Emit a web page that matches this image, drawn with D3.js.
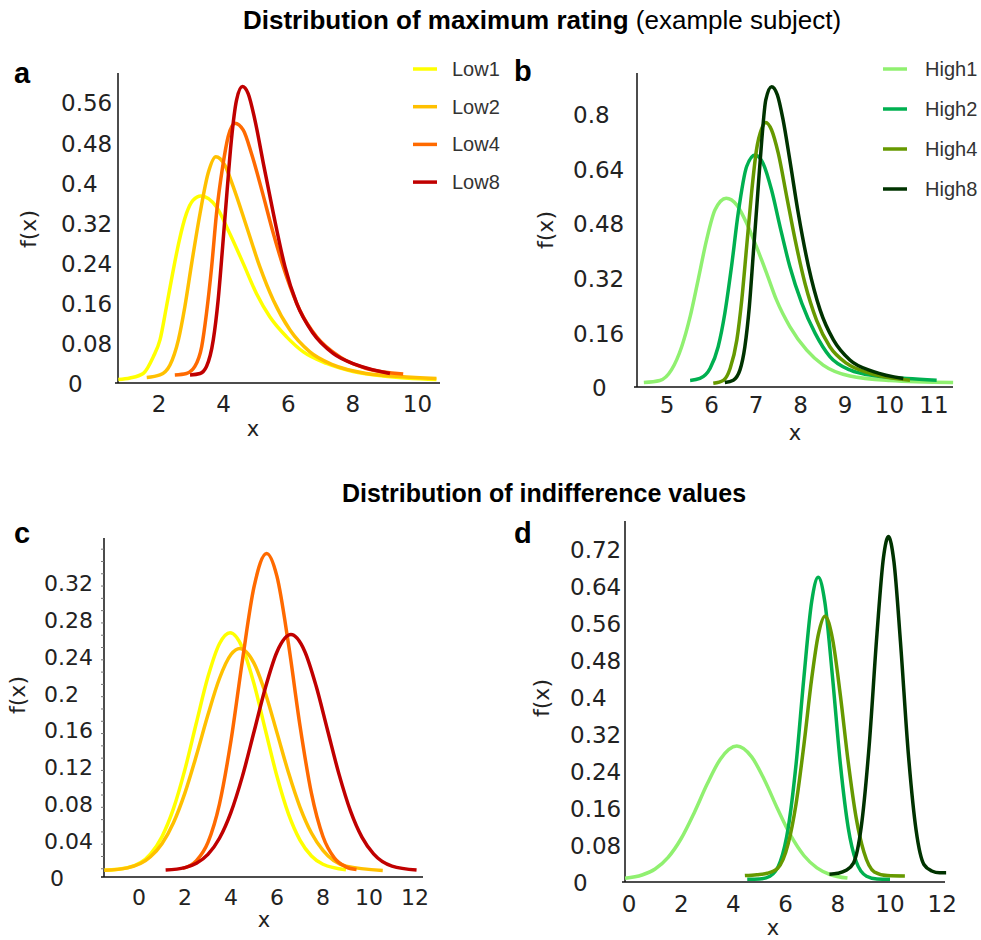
<!DOCTYPE html>
<html>
<head>
<meta charset="utf-8">
<script src="https://cdn.jsdelivr.net/npm/d3@7"></script>
<style>
  body { margin: 0; background: #fff; }
  svg { display: block; }
  text { font-family: "DejaVu Sans", sans-serif; fill: #222; }
</style>
</head>
<body>
<svg id="chart" width="981" height="940"></svg>
<script>
// ---- data: [x, f(x)] ----
// a: maximum rating, Low
const maxLow1 = [[0.74,0.009],[1.10,0.012],[1.51,0.021],[1.82,0.054],[2.03,0.088],[2.23,0.154],[2.42,0.22],[2.63,0.287],[2.85,0.34],[3.05,0.366],[3.30,0.375],[3.78,0.353],[4.19,0.30],[4.61,0.24],[5.02,0.18],[5.43,0.134],[5.95,0.094],[6.47,0.064],[7.19,0.041],[8.01,0.025],[8.94,0.016],[10.59,0.009]];
const maxLow2 = [[1.62,0.013],[2.03,0.018],[2.34,0.038],[2.60,0.088],[2.80,0.154],[3.01,0.24],[3.27,0.34],[3.52,0.42],[3.76,0.453],[4.04,0.436],[4.30,0.393],[4.71,0.314],[5.12,0.234],[5.54,0.167],[6.05,0.108],[6.67,0.064],[7.39,0.038],[8.42,0.021],[9.46,0.015],[10.59,0.011]];
const maxLow4 = [[2.49,0.018],[2.85,0.021],[3.11,0.035],[3.32,0.074],[3.47,0.141],[3.63,0.234],[3.78,0.34],[3.97,0.433],[4.14,0.493],[4.35,0.52],[4.61,0.506],[4.86,0.46],[5.18,0.387],[5.54,0.30],[5.95,0.214],[6.36,0.147],[6.88,0.094],[7.60,0.054],[8.42,0.031],[9.56,0.02]];
const maxLow8 = [[2.96,0.018],[3.27,0.021],[3.47,0.035],[3.68,0.088],[3.83,0.167],[3.97,0.274],[4.11,0.387],[4.24,0.486],[4.40,0.566],[4.58,0.593],[4.76,0.579],[4.97,0.526],[5.23,0.44],[5.54,0.34],[5.90,0.234],[6.26,0.161],[6.77,0.101],[7.39,0.061],[8.12,0.038],[9.15,0.021]];

// b: maximum rating, High
const maxHigh1 = [[4.48,0.016],[4.84,0.022],[5.10,0.053],[5.33,0.121],[5.52,0.209],[5.70,0.317],[5.89,0.434],[6.08,0.522],[6.33,0.556],[6.57,0.536],[6.79,0.483],[7.01,0.414],[7.24,0.336],[7.46,0.258],[7.76,0.18],[8.14,0.111],[8.51,0.067],[9.11,0.035],[10.01,0.022],[11.43,0.016]];
const maxHigh2 = [[5.52,0.022],[5.74,0.028],[5.97,0.058],[6.15,0.121],[6.30,0.219],[6.45,0.356],[6.60,0.512],[6.79,0.649],[6.98,0.683],[7.16,0.658],[7.35,0.58],[7.54,0.473],[7.76,0.356],[8.03,0.248],[8.33,0.16],[8.66,0.092],[9.11,0.053],[9.71,0.035],[10.39,0.028],[11.06,0.023]];
const maxHigh4 = [[6.04,0.014],[6.27,0.023],[6.42,0.058],[6.57,0.141],[6.68,0.258],[6.79,0.414],[6.90,0.571],[7.01,0.697],[7.13,0.761],[7.22,0.778],[7.35,0.756],[7.50,0.688],[7.69,0.561],[7.88,0.434],[8.10,0.307],[8.36,0.199],[8.66,0.121],[9.04,0.072],[9.56,0.043],[10.46,0.023]];
const maxHigh8 = [[6.30,0.016],[6.49,0.023],[6.64,0.053],[6.75,0.121],[6.85,0.238],[6.94,0.395],[7.04,0.571],[7.13,0.727],[7.22,0.844],[7.35,0.883],[7.48,0.859],[7.61,0.785],[7.76,0.668],[7.95,0.512],[8.18,0.356],[8.44,0.229],[8.74,0.141],[9.11,0.082],[9.64,0.048],[10.31,0.028]];

// c: indifference values, Low
const indLow1 = [[-1.5,0.0083],[-0.5,0.0111],[0.5,0.026],[1.0,0.0448],[1.5,0.0752],[2.0,0.1178],[2.5,0.1687],[3.0,0.2182],[3.5,0.2541],[3.96,0.266],[4.5,0.2498],[5.0,0.2109],[5.5,0.1603],[6.0,0.1103],[6.5,0.0695],[7.0,0.0411],[7.5,0.0239],[8.0,0.0149],[9.0,0.0089]];
const indLow2 = [[-1.5,0.0084],[-0.5,0.011],[0.5,0.023],[1.0,0.0372],[1.5,0.060],[2.0,0.0924],[2.5,0.1331],[3.0,0.177],[3.5,0.2164],[4.0,0.2424],[4.39,0.249],[5.0,0.2331],[5.5,0.2002],[6.0,0.1577],[6.5,0.1144],[7.0,0.077],[7.5,0.0488],[8.0,0.030],[9.0,0.0129],[10.6,0.0082]];
const indLow4 = [[1.9,0.0104],[2.5,0.0189],[3.0,0.0387],[3.5,0.0802],[4.0,0.1489],[4.5,0.2363],[5.0,0.3154],[5.55,0.352],[6.0,0.3271],[6.5,0.254],[7.0,0.1655],[7.5,0.0917],[8.0,0.045],[8.5,0.0216],[9.0,0.0121],[9.46,0.0092]];
const indLow8 = [[1.16,0.0086],[2.0,0.0113],[2.5,0.016],[3.0,0.0256],[3.5,0.0431],[4.0,0.0712],[4.5,0.1105],[5.0,0.1583],[5.5,0.2067],[6.0,0.2452],[6.61,0.264],[7.2,0.2463],[7.7,0.2085],[8.2,0.1603],[8.7,0.1124],[9.2,0.0725],[9.7,0.044],[10.2,0.0261],[11.0,0.0129],[12.07,0.0086]];

// d: indifference values, High
const indHigh1 = [[-0.15,0.0104],[0.5,0.0173],[1.0,0.0304],[1.5,0.0555],[2.0,0.0962],[2.5,0.1521],[3.0,0.2145],[3.5,0.2677],[4.13,0.296],[4.7,0.2726],[5.2,0.2217],[5.7,0.1594],[6.2,0.1022],[6.7,0.0595],[7.2,0.0327],[7.7,0.0184],[8.37,0.0107]];
const indHigh2 = [[4.53,0.008],[5.0,0.0087],[5.4,0.0147],[5.8,0.047],[6.1,0.1191],[6.4,0.2561],[6.7,0.4436],[7.0,0.6086],[7.25,0.661],[7.5,0.6086],[7.8,0.4436],[8.1,0.2561],[8.4,0.1191],[8.7,0.047],[9.1,0.0147],[9.5,0.0087],[10.0,0.008]];
const indHigh4 = [[4.44,0.016],[4.9,0.018],[5.3,0.021],[5.7,0.032],[6.1,0.085],[6.4,0.171],[6.7,0.298],[7.0,0.442],[7.25,0.536],[7.51,0.577],[7.8,0.527],[8.1,0.405],[8.4,0.261],[8.7,0.142],[9.0,0.067],[9.4,0.024],[9.9,0.016],[10.57,0.015]];
const indHigh8 = [[7.68,0.019],[8.0,0.021],[8.3,0.027],[8.6,0.043],[8.9,0.122],[9.2,0.296],[9.5,0.538],[9.75,0.704],[9.94,0.749],[10.15,0.695],[10.4,0.522],[10.7,0.281],[11.0,0.114],[11.3,0.040],[11.6,0.026],[11.9,0.022],[12.15,0.022]];

const lowNames = ['Low1', 'Low2', 'Low4', 'Low8'];
const highNames = ['High1', 'High2', 'High4', 'High8'];
const lowColors = ['#ffff00', '#ffc000', '#ff6a00', '#c00000'];
const highColors = ['#90f070', '#00b050', '#669900', '#003300'];

// tick values
const yTicksA = [0, 0.08, 0.16, 0.24, 0.32, 0.4, 0.48, 0.56];
const xTicksA = [2, 4, 6, 8, 10];
const yTicksB = [0, 0.16, 0.32, 0.48, 0.64, 0.8];
const xTicksB = [5, 6, 7, 8, 9, 10, 11];
const yTicksC = [0, 0.04, 0.08, 0.12, 0.16, 0.2, 0.24, 0.28, 0.32];
const xTicksC = [0, 2, 4, 6, 8, 10, 12];
const yTicksD = [0, 0.08, 0.16, 0.24, 0.32, 0.4, 0.48, 0.56, 0.64, 0.72];
const xTicksD = [0, 2, 4, 6, 8, 10, 12];

const svg = d3.select('#chart');
const arial = '"Liberation Sans", Arial, sans-serif';

// titles
const t1 = svg.append('text').attr('x', 542).attr('y', 29).attr('text-anchor', 'middle')
    .style('font-family', arial).style('font-size', '26px').style('fill', '#000');
t1.append('tspan').style('font-weight', 'bold').text('Distribution of maximum rating ');
t1.append('tspan').text('(example subject)');
svg.append('text').attr('x', 544).attr('y', 502).attr('text-anchor', 'middle')
    .style('font-family', arial).style('font-size', '25px').style('font-weight', 'bold').style('fill', '#000')
    .text('Distribution of indifference values');

const panels = [
    { letter: 'a', lx: 14, ly: 83, data: [maxLow1, maxLow2, maxLow4, maxLow8], names: lowNames, colors: lowColors,
      xd: [0.73, 10.7], left: 118, right: 440, yd: [0, 0.62], bottom: 384, top: 73,
      xTicks: xTicksA, yTicks: yTicksA, tickX: 61, zeroDx: 7, tickFs: 23, xTickY: 412,
      fx: [36, 229], xLab: [253, 436], legend: { x: 413, y: 69, step: 37.7, tx: 452 } },
    { letter: 'b', lx: 514, ly: 81, data: [maxHigh1, maxHigh2, maxHigh4, maxHigh8], names: highNames, colors: highColors,
      xd: [4.326, 11.427], left: 637, right: 953, yd: [0, 0.923], bottom: 388, top: 73,
      xTicks: xTicksB, yTicks: yTicksB, tickX: 573, zeroDx: 19, tickFs: 23, xTickY: 413,
      fx: [553, 230], xLab: [795, 440], legend: { x: 883, y: 69, step: 40, tx: 925 } },
    { letter: 'c', lx: 14, ly: 543, data: [indLow1, indLow2, indLow4, indLow8], names: lowNames, colors: lowColors,
      xd: [-1.52, 12.35], left: 104, right: 423, yd: [0, 0.3688], bottom: 878, top: 538,
      xTicks: xTicksC, yTicks: yTicksC, tickX: 44, zeroDx: 6, tickFs: 22, xTickY: 905,
      fx: [25, 695], xLab: [264, 927], minor: true },
    { letter: 'd', lx: 514, ly: 543, data: [indHigh1, indHigh2, indHigh4, indHigh8], names: highNames, colors: highColors,
      xd: [-0.153, 12.107], left: 625, right: 945, yd: [0, 0.7827], bottom: 883, top: 521,
      xTicks: xTicksD, yTicks: yTicksD, tickX: 570, zeroDx: 3, tickFs: 23, xTickY: 912,
      fx: [549, 698], xLab: [773, 935] }
];

const fmt = v => String(+v.toFixed(2));

panels.forEach(p => {
    const g = svg.append('g');
    const x = d3.scaleLinear().domain(p.xd).range([p.left, p.right]);
    const y = d3.scaleLinear().domain(p.yd).range([p.bottom, p.top]);

    // axes
    g.append('line').attr('x1', p.left).attr('x2', p.left).attr('y1', p.top).attr('y2', p.bottom - 1)
        .attr('stroke', '#111').attr('stroke-width', 1.5);
    g.append('line').attr('x1', p.left - 3).attr('x2', p.right).attr('y1', p.bottom - 1).attr('y2', p.bottom - 1)
        .attr('stroke', '#111').attr('stroke-width', 1.5);

    if (p.minor) {
        g.selectAll('.minor').data(d3.range(0.01, p.yd[1], 0.04 / 3)).enter().append('line')
            .attr('x1', p.left - 3).attr('x2', p.left).attr('y1', d => y(d)).attr('y2', d => y(d))
            .attr('stroke', '#777').attr('stroke-width', 1);
    }

    g.selectAll('.ytick').data(p.yTicks).enter().append('text')
        .attr('x', d => d === 0 ? p.tickX + p.zeroDx : p.tickX)
        .attr('y', d => y(d) + p.tickFs * 0.36)
        .style('font-size', p.tickFs + 'px')
        .text(fmt);

    g.selectAll('.xtick').data(p.xTicks).enter().append('text')
        .attr('x', d => x(d)).attr('y', p.xTickY)
        .attr('text-anchor', 'middle')
        .style('font-size', p.tickFs + 'px')
        .text(d => d);

    // labels
    g.append('text').attr('transform', `translate(${p.fx[0]},${p.fx[1]}) rotate(-90)`)
        .attr('text-anchor', 'middle').style('font-size', '22px').text('f(x)');
    g.append('text').attr('x', p.xLab[0]).attr('y', p.xLab[1])
        .attr('text-anchor', 'middle').style('font-size', '21px').text('x');
    g.append('text').attr('x', p.lx).attr('y', p.ly)
        .style('font-family', arial).style('font-size', '29px').style('font-weight', 'bold').style('fill', '#000')
        .text(p.letter);

    // curves
    const line = d3.line().x(d => x(d[0])).y(d => y(d[1])).curve(d3.curveMonotoneX);
    g.selectAll('.curve').data(p.data).enter().append('path')
        .attr('d', line)
        .attr('fill', 'none')
        .attr('stroke', (d, i) => p.colors[i])
        .attr('stroke-width', 3.5);

    // legend
    if (p.legend) {
        const lg = g.append('g');
        p.names.forEach((n, i) => {
            const ry = p.legend.y + i * p.legend.step;
            lg.append('line').attr('x1', p.legend.x).attr('x2', p.legend.x + 24)
                .attr('y1', ry).attr('y2', ry)
                .attr('stroke', p.colors[i]).attr('stroke-width', 3.5);
            lg.append('text').attr('x', p.legend.tx).attr('y', ry + 7)
                .style('font-family', arial)
                .style('font-size', '20px').style('fill', '#333')
                .text(n);
        });
    }
});
</script>
</body>
</html>
